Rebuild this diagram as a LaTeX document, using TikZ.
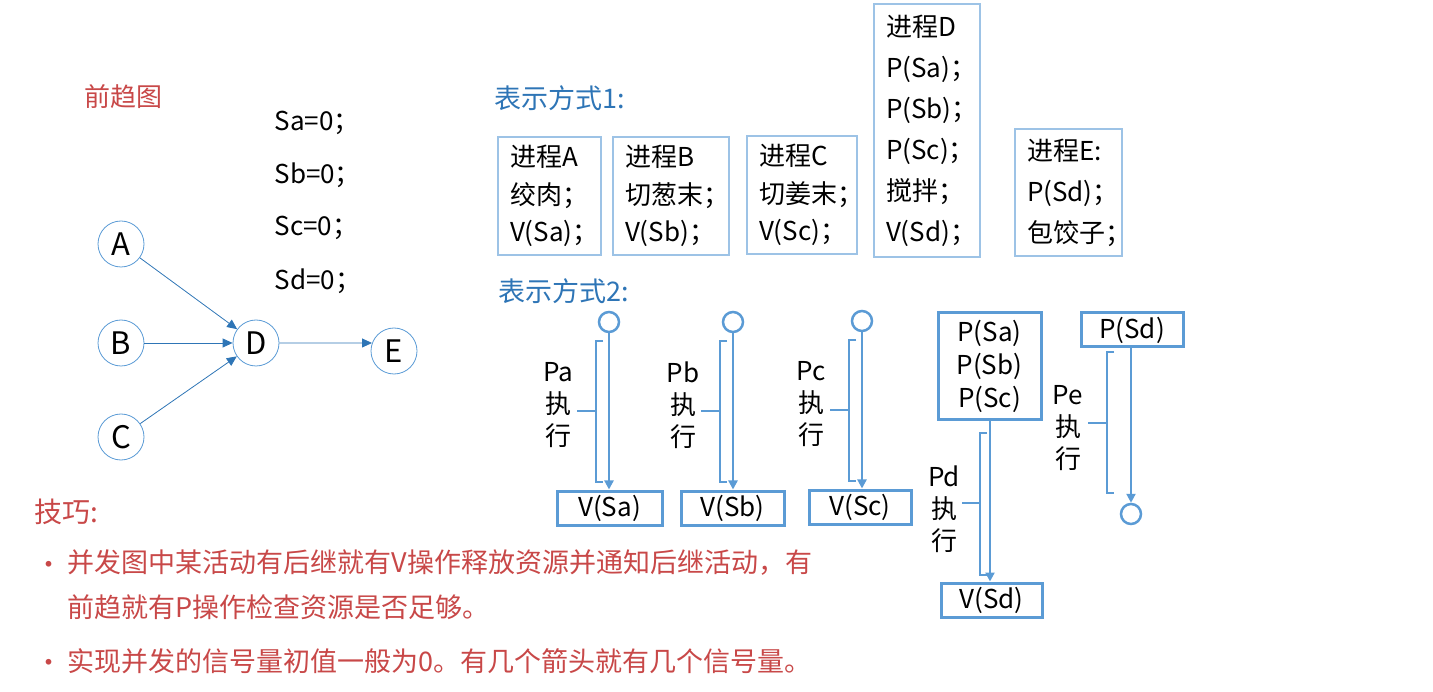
\documentclass[tikz,border=0pt]{standalone}
\usepackage{fontspec}
\setmainfont{Noto Sans CJK SC}
\usetikzlibrary{arrows.meta}
\definecolor{redt}{RGB}{200,72,72}
\definecolor{bluet}{RGB}{46,117,182}
\definecolor{circb}{RGB}{91,155,213}
\definecolor{lineb}{RGB}{91,155,213}
\definecolor{boxb}{RGB}{157,195,230}
\newcommand{\fs}[2]{\fontsize{#1}{#2}\selectfont}
\tikzset{
  gnode/.style={circle, draw=circb, line width=0.8pt, minimum size=46pt, inner sep=0pt, font=\fs{31}{34}},
  garrow/.style={draw=bluet, line width=0.8pt, -{Triangle[width=9pt,length=10pt]}},
  pbox/.style={draw=boxb, line width=1.2pt, align=left, inner xsep=0pt, inner ysep=0pt},
  vbox/.style={draw=lineb, line width=3pt, minimum height=34pt, inner sep=0pt, font=\fs{26}{28}},
  sarrow/.style={draw=lineb, line width=2.5pt, -{Triangle[width=9pt,length=9pt]}},
  sline/.style={draw=lineb, line width=2.5pt},
  scirc/.style={circle, draw=lineb, line width=2.5pt, minimum size=20pt, inner sep=0pt},
  lab/.style={align=center, font=\fs{26}{32}},
  redtext/.style={text=redt, anchor=west, font=\fs{27}{30}},
}
\begin{document}
\begin{tikzpicture}[x=1pt,y=-1pt]
\useasboundingbox (0,0) rectangle (1433,692);
% precedence graph
\node[redtext, font=\fs{26}{28}] (title) at (81,97) {前趋图};
\node[gnode] (A) at (121,244) {A};
\node[gnode] (B) at (121,343) {B};
\node[gnode] (C) at (121,437) {C};
\node[gnode] (D) at (256,343) {D};
\node[gnode] (E) at (394,351) {E};
\draw[garrow] (A) -- (D);
\draw[garrow] (B) -- (D);
\draw[garrow] (C) -- (D);
\draw[garrow] (D.east) -- (E.160);
\node[anchor=west, font=\fs{26}{28}] (sa) at (271,123) {Sa=0；};
\node[anchor=west, font=\fs{26}{28}] (sb) at (271,175) {Sb=0；};
\node[anchor=west, font=\fs{26}{28}] (sc) at (271,228) {Sc=0；};
\node[anchor=west, font=\fs{26}{28}] (sd) at (271,281) {Sd=0；};
% representation 1
\node[anchor=west, text=bluet, font=\fs{27}{28}] (r1) at (491,98) {表示方式1:};
\node[pbox, minimum width=103pt, minimum height=118pt, text width=79pt, font=\fs{26}{37.5}] (pA) at (549.5,196) {进程A\\绞肉；\\V(Sa)；};
\node[pbox, minimum width=116pt, minimum height=118pt, text width=92pt, font=\fs{26}{37.5}] (pB) at (671,196) {进程B\\切葱末；\\V(Sb)；};
\node[pbox, minimum width=110pt, minimum height=118pt, text width=86pt, font=\fs{26}{37.5}] (pC) at (802,195) {进程C\\切姜末；\\V(Sc)；};
\node[pbox, minimum width=106pt, minimum height=253pt, text width=82pt, font=\fs{26}{41}] (pD) at (927,130.5) {进程D\\P(Sa)；\\P(Sb)；\\P(Sc)；\\搅拌；\\V(Sd)；};
\node[pbox, minimum width=107pt, minimum height=127pt, text width=83pt, font=\fs{26}{41}] (pE) at (1068.5,192.5) {进程E:\\P(Sd)；\\包饺子；};
% representation 2
\node[anchor=west, text=bluet, font=\fs{27}{28}] (r2) at (495,291) {表示方式2:};
% Pa
\node[scirc] (ca) at (609,322) {};
\node[vbox, minimum width=105pt] (va) at (609.5,508) {V(Sa)};
\draw[sarrow] (ca) -- (va.north -| ca);
\draw[sline] (603,341) -- (596,341) -- (596,482) -- (603,482);
\draw[sline] (577,411) -- (596,411);
\node[lab] (la) at (558,405) {Pa\\执\\行};
% Pb
\node[scirc] (cb) at (733,322) {};
\node[vbox, minimum width=103pt] (vb) at (732.5,508) {V(Sb)};
\draw[sarrow] (cb) -- (vb.north -| cb);
\draw[sline] (727,341) -- (720,341) -- (720,482) -- (727,482);
\draw[sline] (701,411) -- (720,411);
\node[lab] (lb) at (683,405) {Pb\\执\\行};
% Pc
\node[scirc] (cc) at (862,321) {};
\node[vbox, minimum width=102pt] (vc) at (860,507) {V(Sc)};
\draw[sarrow] (cc) -- (vc.north -| cc);
\draw[sline] (856,340) -- (849,340) -- (849,481) -- (856,481);
\draw[sline] (830,410) -- (849,410);
\node[lab] (lc) at (811,404) {Pc\\执\\行};
% Pd
\node[vbox, minimum width=103pt, minimum height=107pt, align=center, font=\fs{26}{33}] (pd) at (989.5,366.5) {P(Sa)\\P(Sb)\\P(Sc)};
\node[vbox, minimum width=101pt] (vd) at (991.5,600) {V(Sd)};
\draw[sarrow] (pd.south -| 990,0) -- (vd.north -| 990,0);
\draw[sline] (987,433) -- (980,433) -- (980,575) -- (987,575);
\draw[sline] (962,503) -- (980,503);
\node[lab] (ld) at (944,509) {Pd\\执\\行};
% Pe
\node[vbox, minimum width=102pt] (pe) at (1132,330) {P(Sd)};
\node[scirc] (ce) at (1131,514) {};
\draw[sarrow] (pe.south -| ce) -- (ce);
\draw[sline] (1114,352) -- (1107,352) -- (1107,493) -- (1114,493);
\draw[sline] (1088,423) -- (1107,423);
\node[lab] (le) at (1068,428) {Pe\\执\\行};
% tips
\node[redtext, font=\fs{28}{30}] (tip) at (31,512) {技巧:};
\node[redtext] (b1) at (32,568) {•};
\node[redtext] (t1) at (64,563) {并发图中某活动有后继就有V操作释放资源并通知后继活动，有};
\node[redtext] (t2) at (64,607) {前趋就有P操作检查资源是否足够。};
\node[redtext] (b2) at (32,666) {•};
\node[redtext] (t3) at (64,661) {实现并发的信号量初值一般为0。有几个箭头就有几个信号量。};
\end{tikzpicture}
\end{document}
